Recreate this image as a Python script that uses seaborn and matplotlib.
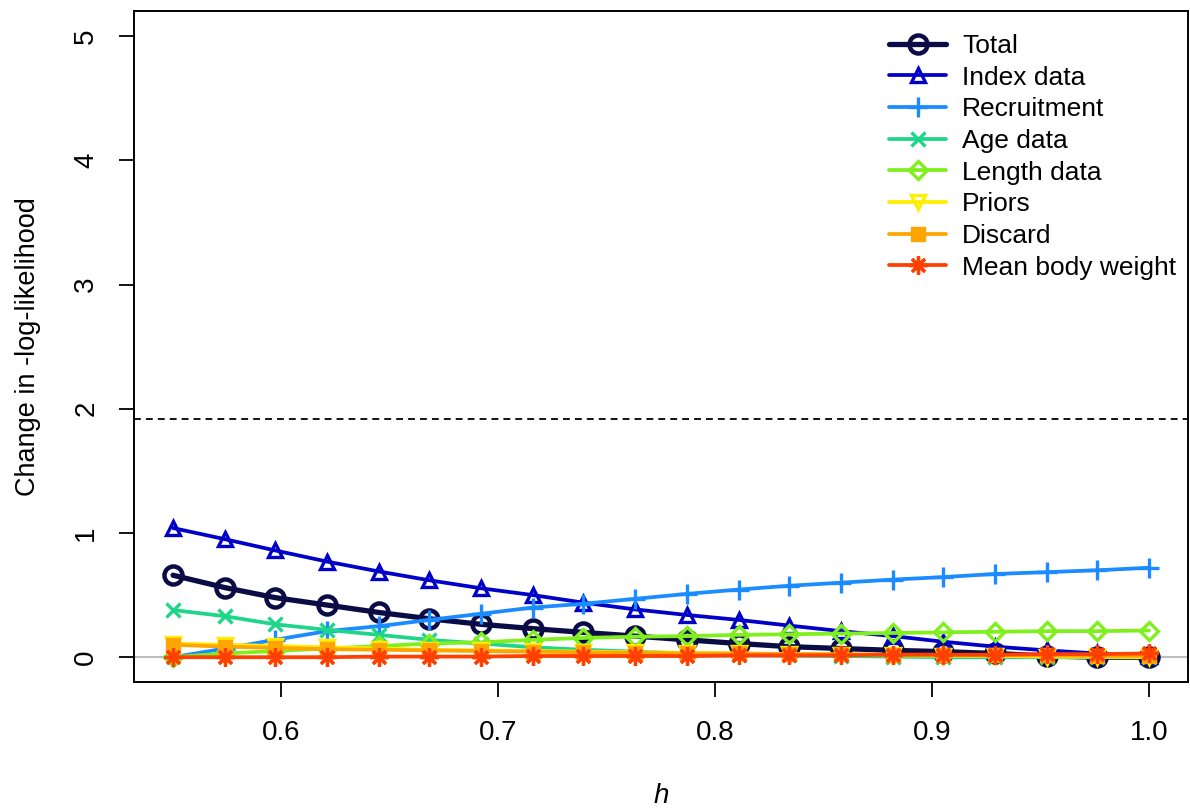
import numpy as np
import pandas as pd
import matplotlib
matplotlib.use("Agg")
import matplotlib.pyplot as plt
import seaborn as sns

h = [0.550, 0.574, 0.597, 0.621, 0.645, 0.668, 0.692, 0.716, 0.739, 0.763,
     0.787, 0.811, 0.834, 0.858, 0.882, 0.905, 0.929, 0.953, 0.976, 1.000]

total = [0.66, 0.56, 0.48, 0.42, 0.36, 0.31, 0.265, 0.23, 0.20, 0.17,
         0.14, 0.11, 0.085, 0.07, 0.055, 0.045, 0.03, 0.01, 0.0, 0.0]
index_data = [1.04, 0.95, 0.86, 0.77, 0.69, 0.62, 0.555, 0.50, 0.44, 0.385,
              0.34, 0.30, 0.255, 0.21, 0.17, 0.125, 0.085, 0.055, 0.03, 0.01]
recruitment = [0.0, 0.07, 0.14, 0.21, 0.25, 0.30, 0.35, 0.40, 0.43, 0.47,
               0.51, 0.545, 0.575, 0.60, 0.625, 0.645, 0.67, 0.685, 0.70, 0.72]
age_data = [0.38, 0.33, 0.265, 0.22, 0.18, 0.14, 0.11, 0.08, 0.06, 0.045,
            0.03, 0.02, 0.015, 0.01, 0.005, 0.0, 0.0, 0.0, 0.0, 0.0]
length_data = [0.0, 0.03, 0.05, 0.07, 0.09, 0.11, 0.12, 0.14, 0.155, 0.165,
               0.17, 0.18, 0.185, 0.19, 0.195, 0.20, 0.205, 0.21, 0.21, 0.215]
priors = [0.11, 0.10, 0.09, 0.08, 0.07, 0.06, 0.055, 0.05, 0.045, 0.04,
          0.035, 0.03, 0.025, 0.02, 0.015, 0.012, 0.01, 0.005, 0.003, 0.0]
discard = [0.10, 0.085, 0.075, 0.065, 0.06, 0.055, 0.05, 0.045, 0.04, 0.035,
           0.03, 0.03, 0.025, 0.025, 0.02, 0.02, 0.015, 0.015, 0.01, 0.01]
mean_body_weight = [0.0, 0.0, 0.0, 0.0, 0.005, 0.005, 0.005, 0.01, 0.01, 0.01,
                    0.01, 0.015, 0.015, 0.015, 0.02, 0.02, 0.02, 0.025, 0.025, 0.03]

labels = ["Total", "Index data", "Recruitment", "Age data", "Length data",
          "Priors", "Discard", "Mean body weight"]
chi_threshold = 1.92

series = [total, index_data, recruitment, age_data, length_data, priors, discard, mean_body_weight]
colors = ["#0B0B45", "#0000C8", "#1A8CFF", "#1ED68A", "#7FF01E", "#FFEE00", "#FFA500", "#FF4000"]
markers = ["o", "^", "+", "x", "D", "v", "s", (8, 2, 0)]
msizes = [13, 10.5, 15, 10.5, 9.5, 10.5, 8, 13]
lws = [3.8, 2.7, 2.7, 2.7, 2.7, 2.7, 2.7, 2.7]

sns.set_style("white")
plt.rcParams["font.family"] = ["Liberation Sans", "DejaVu Sans"]
plt.rcParams["text.color"] = "black"
plt.rcParams["axes.labelcolor"] = "black"
plt.rcParams["xtick.color"] = "black"
plt.rcParams["ytick.color"] = "black"

fig = plt.figure(figsize=(11.9, 8.11), dpi=100)
ax = fig.add_axes([0.1126, 0.159, 0.8857, 0.827])

ax.axhline(0, color="#BEBEBE", lw=1.5, zorder=1)
ax.axhline(chi_threshold, color="black", lw=1.3, ls=(0, (3.8, 2.8)), zorder=1)

handles = []
for i, (vals, lab) in enumerate(zip(series, labels)):
    df = pd.DataFrame({"h": h, "v": vals})
    m = markers[i]
    filled = m in ("s",)
    sns.lineplot(data=df, x="h", y="v", ax=ax, color=colors[i], lw=lws[i],
                 marker=m, markersize=msizes[i],
                 markerfacecolor=colors[i] if filled else "none",
                 markeredgecolor=colors[i], markeredgewidth=3.2 if i == 0 else 2.4,
                 zorder=2 + i, label=lab, legend=False)
    handles.append(ax.lines[-1])

ax.set_xlim(0.532, 1.018)
ax.set_ylim(-0.2, 5.2)
ax.set_xticks([0.6, 0.7, 0.8, 0.9, 1.0])
ax.set_xticklabels(["0.6", "0.7", "0.8", "0.9", "1.0"])
ax.set_yticks([0, 1, 2, 3, 4, 5])
ax.set_yticklabels(["0", "1", "2", "3", "4", "5"], rotation=90, va="center")
ax.tick_params(axis="both", direction="out", length=11, width=1.3, labelsize=20,
               bottom=True, left=True, color="black")
ax.tick_params(axis="x", pad=16)
ax.tick_params(axis="y", pad=14)
for s in ax.spines.values():
    s.set_color("black")
    s.set_linewidth(1.4)

ax.set_xlabel("h", fontsize=20, fontstyle="italic", labelpad=27)
ax.set_ylabel("Change in -log-likelihood", fontsize=19.5, labelpad=23)

leg = ax.legend(handles=handles, labels=labels, loc="upper right", frameon=False,
                fontsize=19, handlelength=2.15, handletextpad=0.6, labelspacing=0.29,
                borderaxespad=0.15, borderpad=0.3, bbox_to_anchor=(1.0, 0.984))

fig.savefig("out.png", dpi=100)
